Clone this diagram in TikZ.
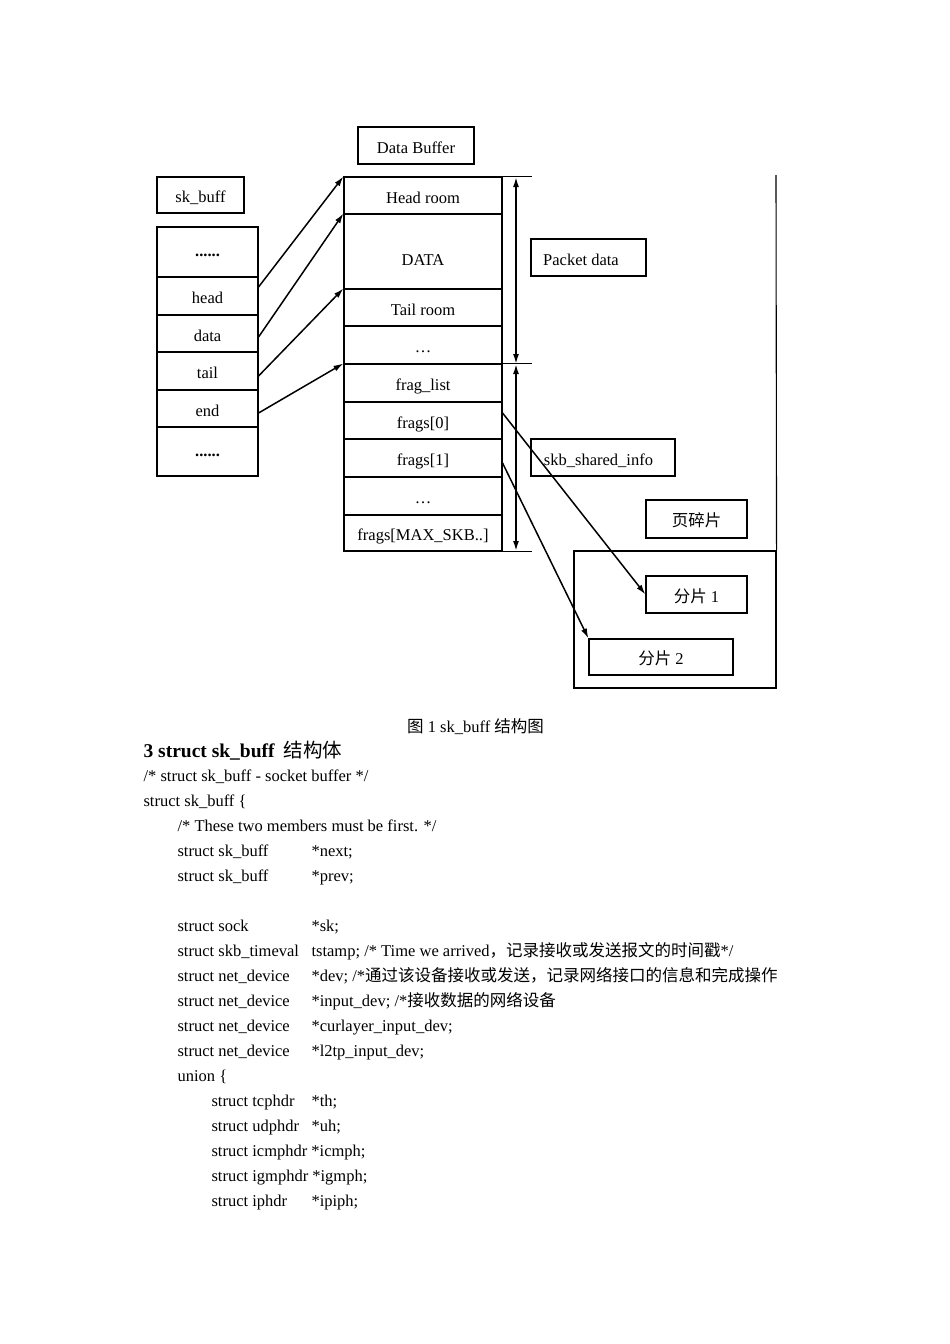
\documentclass[tikz,border=0pt]{standalone}
\usepackage{fontspec}
\setmainfont{Liberation Serif}
\newfontfamily\cjk{Noto Sans CJK SC}
\usetikzlibrary{arrows.meta}
\newcommand\bodyfs{\fontsize{16.5}{20}\selectfont}

\begin{document}
\begin{tikzpicture}[x=1pt,y=-1pt,font=\bodyfs,line width=1.1pt,
  box/.style 2 args={draw,inner sep=0pt,minimum width=#1,minimum height=#2,text height=15pt,text depth=0pt},
  txt/.style={anchor=west,inner sep=0pt,text height=13pt,text depth=1pt},
  ptr/.style={-{Latex[length=10pt,width=6pt]},line width=1.5pt},
  dim/.style={{Latex[length=10pt,width=6pt]}-{Latex[length=10pt,width=6pt]},line width=1.7pt}]
\useasboundingbox (0,0) rectangle (950,1344);

% titles
\node[box={116}{37}] (dbuf) at (416,145.5) {Data Buffer};
\node[box={87}{36}] (skb) at (200.5,195) {sk\_buff};

% sk_buff fields
\node[box={101}{50}] (pdots1) at (207.5,252) {\raisebox{3pt}{\textbf{......}}};
\node[box={101}{38}] (phead) at (207.5,296) {head};
\node[box={101}{37}] (pdata) at (207.5,333.5) {data};
\node[box={101}{38}] (ptail) at (207.5,371) {tail};
\node[box={101}{37}] (pend) at (207.5,408.5) {end};
\node[box={101}{49}] (pdots2) at (207.5,451.5) {\raisebox{3pt}{\textbf{......}}};

% data buffer
\node[box={158}{37}] (hroom) at (423,195.5) {Head room};
\node[box={158}{75}] (dat) at (423,251.5) {\raisebox{-6pt}{DATA}};
\node[box={158}{37}] (troom) at (423,307.5) {Tail room};
\node[box={158}{38}] (bdots1) at (423,345) {\dots};
\node[box={158}{38}] (fraglist) at (423,383) {frag\_list};
\node[box={158}{37}] (frag0) at (423,420.5) {frags[0]};
\node[box={158}{38}] (frag1) at (423,458) {frags[1]};
\node[box={158}{38}] (bdots2) at (423,496) {\dots};
\node[box={158}{36}] (fragmax) at (423,533) {frags[MAX\_SKB..]};

% labels on the right
\node[box={115}{37}] (pkt) at (588.5,257.5) {Packet data\kern15pt};
\node[box={144}{37}] (shinfo) at (603,457.5) {skb\_shared\_info\kern9pt};
\node[box={101}{38}] (pfrag) at (696.5,519) {\cjk 页碎片};
\node[box={202}{137}] (pagebox) at (675,619.5) {};
\node[box={101}{37}] (piece1) at (696.5,594.5) {{\cjk 分片} 1};
\node[box={144}{36}] (piece2) at (661,657) {{\cjk 分片} 2};

\coordinate (pkttop) at (516,177);
\coordinate (pktmid) at (516,364);
\coordinate (pktbot) at (516,551);
\coordinate (rtop) at (776,175);

\draw (hroom.north east) -- +(29,0);
\draw (fraglist.north east) -- +(29,0);
\draw (fragmax.south east) -- +(29,0);
\draw (rtop) -- (pagebox.north east);
\draw[dim] (pkttop) -- (pktmid);
\draw[dim] (pktmid) -- (pktbot);

% pointers
\draw[ptr] ([yshift=9pt]phead.east) -- (hroom.north west);
\draw[ptr] ([yshift=-3.5pt]pdata.east) -- (dat.north west);
\draw[ptr] ([yshift=-5pt]ptail.east) -- (troom.north west);
\draw[ptr] ([yshift=-4.5pt]pend.east) -- (fraglist.north west);
\draw[ptr] ([yshift=7.5pt]frag0.east) -- (piece1.west);
\draw[ptr] ([yshift=-5pt]frag1.east) -- (piece2.north west);

% text below
\node[txt,anchor=center] (cap) at (475.5,726) {{\cjk 图} 1 sk\_buff {\cjk 结构图}};
\node[txt,font=\fontsize{19.5}{22}\selectfont\bfseries] (sec) at (143,751) {3 struct sk\_buff\hspace{9pt}{\cjk\mdseries 结构体}};
\node[txt] (c1) at (143,775) {/* struct sk\_buff - socket buffer */};
\node[txt] (c2) at (143,800) {struct sk\_buff \{};
\node[txt] (c3) at (177,825) {/* These two members must be first. */};
\node[txt] (c4) at (177,850) {struct sk\_buff};
\node[txt] (c4v) at (311,850) {*next;};
\node[txt] (c5) at (177,875) {struct sk\_buff};
\node[txt] (c5v) at (311,875) {*prev;};
\node[txt] (c6) at (177,925) {struct sock};
\node[txt] (c6v) at (311,925) {*sk;};
\node[txt] (c7) at (177,950) {struct skb\_timeval};
\node[txt] (c7v) at (311,950) {tstamp; /* Time we arrived{\cjk ，记录接收或发送报文的时间戳}*/};
\node[txt] (c8) at (177,975) {struct net\_device};
\node[txt] (c8v) at (311,975) {*dev; /*{\cjk 通过该设备接收或发送，记录网络接口的信息和完成操作}};
\node[txt] (c9) at (177,1000) {struct net\_device};
\node[txt] (c9v) at (311,1000) {*input\_dev; /*{\cjk 接收数据的网络设备}};
\node[txt] (c10) at (177,1025) {struct net\_device};
\node[txt] (c10v) at (311,1025) {*curlayer\_input\_dev;};
\node[txt] (c11) at (177,1050) {struct net\_device};
\node[txt] (c11v) at (311,1050) {*l2tp\_input\_dev;};
\node[txt] (c12) at (177,1075) {union \{};
\node[txt] (c13) at (211,1100) {struct tcphdr};
\node[txt] (c13v) at (311,1100) {*th;};
\node[txt] (c14) at (211,1125) {struct udphdr};
\node[txt] (c14v) at (311,1125) {*uh;};
\node[txt] (c15) at (211,1150) {struct icmphdr *icmph;};
\node[txt] (c16) at (211,1175) {struct igmphdr *igmph;};
\node[txt] (c17) at (211,1200) {struct iphdr};
\node[txt] (c17v) at (311,1200) {*ipiph;};
\end{tikzpicture}
\end{document}
